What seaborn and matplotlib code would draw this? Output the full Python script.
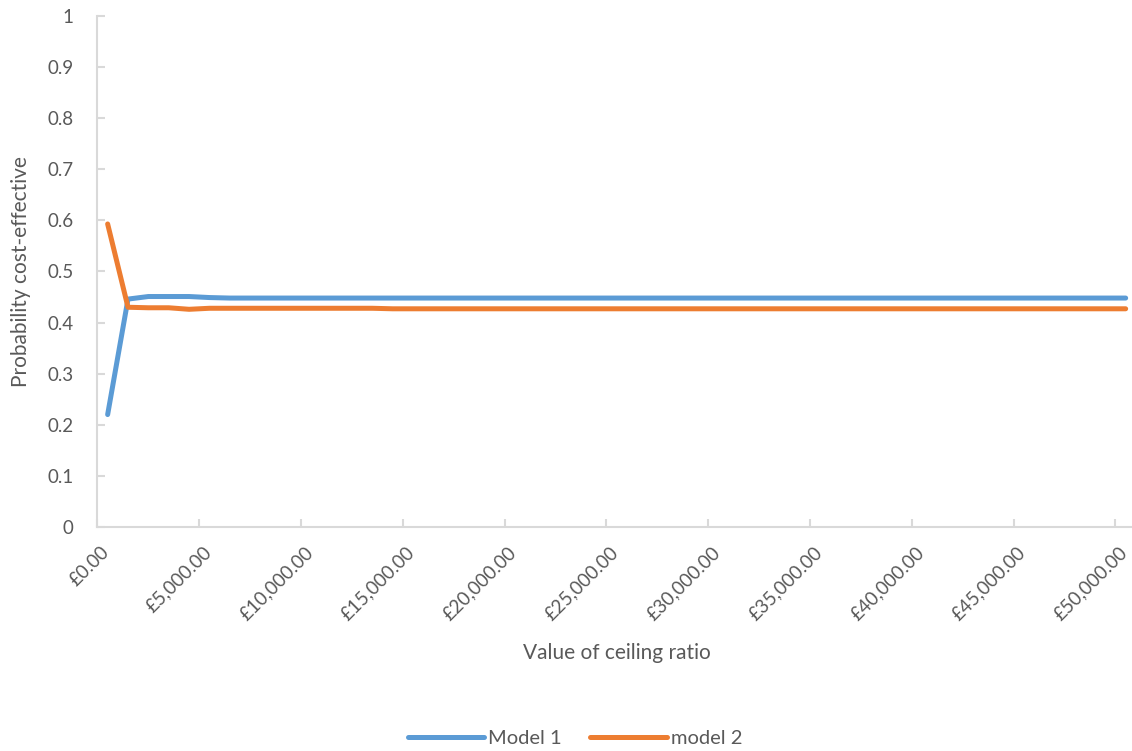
import matplotlib
matplotlib.use("Agg")
import matplotlib.pyplot as plt
import matplotlib.transforms as mtransforms
from matplotlib.lines import Line2D
import seaborn as sns
import pandas as pd

# Willingness-to-pay thresholds (GBP) and probability each model is cost-effective
ceiling = list(range(0, 50001, 1000))
model1 = [0.22, 0.446, 0.451, 0.451, 0.451, 0.449] + [0.448] * 45
model2 = [0.593, 0.430, 0.429, 0.429, 0.426] + [0.428] * 9 + [0.427] * 37
series_names = ["Model 1", "model 2"]
tick_values = list(range(0, 50001, 5000))
tick_labels = [f"£{v:,.2f}" for v in tick_values]
y_ticks = [round(0.1 * i, 1) for i in range(11)]
y_tick_labels = ["0"] + [f"{v:g}" for v in y_ticks[1:-1]] + ["1"]

df = pd.DataFrame({
    "ceiling": ceiling * 2,
    "prob": model1 + model2,
    "series": [series_names[0]] * len(ceiling) + [series_names[1]] * len(ceiling),
})

sns.set_theme(style="white")
plt.rcParams["font.family"] = ["Lato", "DejaVu Sans"]
text_col = "#595959"
axis_col = "#D9D9D9"
colors = ["#5B9BD5", "#ED7D31"]

fig = plt.figure(figsize=(11.32, 7.51), dpi=100)
ax = fig.add_axes([0.0861, 0.2983, 0.9173, 0.6804])

sns.lineplot(data=df, x="ceiling", y="prob", hue="series",
             palette=colors, linewidth=3.6,
             ax=ax, legend=False, solid_capstyle="round", solid_joinstyle="round")

ax.set_xlim(-500, 50500)
ax.set_ylim(0, 1)

for s in ["top", "right"]:
    ax.spines[s].set_visible(False)
for s in ["left", "bottom"]:
    ax.spines[s].set_color(axis_col)
    ax.spines[s].set_linewidth(1.5)

ax.set_yticks(y_ticks)
ax.set_yticklabels(y_tick_labels)
ax.tick_params(axis="y", direction="in", length=6, width=1.5, color=axis_col,
               labelsize=13.5, labelcolor=text_col, pad=17, left=True)

ax.set_xticks(tick_values)
ax.set_xticklabels(tick_labels, rotation=45, ha="right", va="top",
                   rotation_mode="anchor")
ax.tick_params(axis="x", which="major", length=0, labelsize=13.5,
               labelcolor=text_col, pad=12)
shift = mtransforms.ScaledTranslation(-7 / 100, 0, fig.dpi_scale_trans)
for lab in ax.get_xticklabels():
    lab.set_transform(lab.get_transform() + shift)
ax.set_xticks([v - 500 for v in tick_values], minor=True)
ax.tick_params(axis="x", which="minor", direction="in", length=6, width=1.5,
               color=axis_col, bottom=True)

ax.set_xlabel("Value of ceiling ratio", fontsize=15, color=text_col, labelpad=14)
ax.set_ylabel("Probability cost-effective", fontsize=15, color=text_col, labelpad=12)
ax.grid(False)

handles = [Line2D([0], [0], color=colors[0], lw=3.6, solid_capstyle="round"),
           Line2D([0], [0], color=colors[1], lw=3.6, solid_capstyle="round")]
leg = fig.legend(handles, series_names, loc="center", bbox_to_anchor=(0.508, 0.017),
                 ncol=2, frameon=False, fontsize=14.5, handlelength=3.8,
                 handletextpad=0.2, columnspacing=1.4)
for t in leg.get_texts():
    t.set_color(text_col)

fig.savefig("out.png", dpi=100)
